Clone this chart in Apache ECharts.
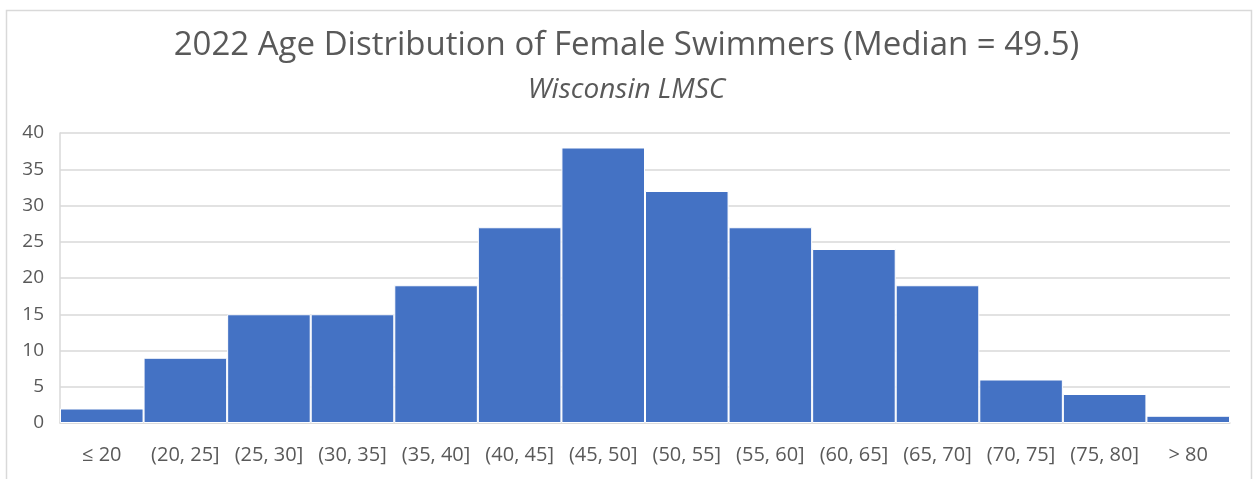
<!DOCTYPE html>
<html>
<head>
<meta charset="utf-8">
<script src="https://cdn.jsdelivr.net/npm/echarts@6/dist/echarts.min.js"></script>
<style>html,body{margin:0;padding:0;background:#fff}#c{width:1253px;height:479px}</style>
</head>
<body>
<div id="c"></div>
<script>
const categories = ['≤ 20','(20, 25]','(25, 30]','(30, 35]','(35, 40]','(40, 45]','(45, 50]','(50, 55]','(55, 60]','(60, 65]','(65, 70]','(70, 75]','(75, 80]','> 80'];
const counts = [2, 9, 15, 15, 19, 27, 38, 32, 27, 24, 19, 6, 4, 1];
const titleText = '2022 Age Distribution of Female Swimmers (Median = 49.5)';
const subtitleText = 'Wisconsin LMSC';

const chart = echarts.init(document.getElementById('c'));
const font = '"Open Sans", "Liberation Sans", sans-serif';
chart.setOption({
  animation: false,
  backgroundColor: '#fff',
  graphic: [{
    type: 'rect', silent: true, z: -1,
    shape: { x: 6.5, y: 10.5, width: 1245, height: 500 },
    style: { fill: null, stroke: '#d9d9d9', lineWidth: 1.5 }
  }],
  title: [{
    text: titleText,
    left: 'center',
    top: 29,
    padding: 0,
    textStyle: { fontFamily: font, fontSize: 33, fontWeight: 'normal', color: '#595959' }
  }, {
    text: subtitleText,
    left: 'center',
    top: 76,
    padding: 0,
    textStyle: { fontFamily: font, fontSize: 28, fontStyle: 'italic', fontWeight: 'normal', color: '#595959' }
  }],
  grid: { left: 60, right: 23, top: 133, bottom: 56, containLabel: false },
  xAxis: {
    type: 'category',
    data: categories,
    axisTick: { show: false },
    axisLine: { show: true, lineStyle: { color: '#d9d9d9', width: 1.5 } },
    axisLabel: { color: '#595959', fontFamily: font, fontSize: 20, margin: 22, interval: 0 }
  },
  yAxis: {
    type: 'value',
    min: 0, max: 40, interval: 5,
    axisLine: { show: true, lineStyle: { color: '#d9d9d9', width: 1.5 } },
    axisTick: { show: false },
    splitLine: { lineStyle: { color: '#d9d9d9', width: 1.5 } },
    axisLabel: { color: '#595959', fontFamily: font, fontSize: 19, margin: 16 }
  },
  series: [{
    type: 'bar',
    data: counts,
    barWidth: '100%',
    itemStyle: { color: '#4472C4', borderColor: '#ffffff', borderWidth: 1 }
  }]
});
</script>
</body>
</html>
